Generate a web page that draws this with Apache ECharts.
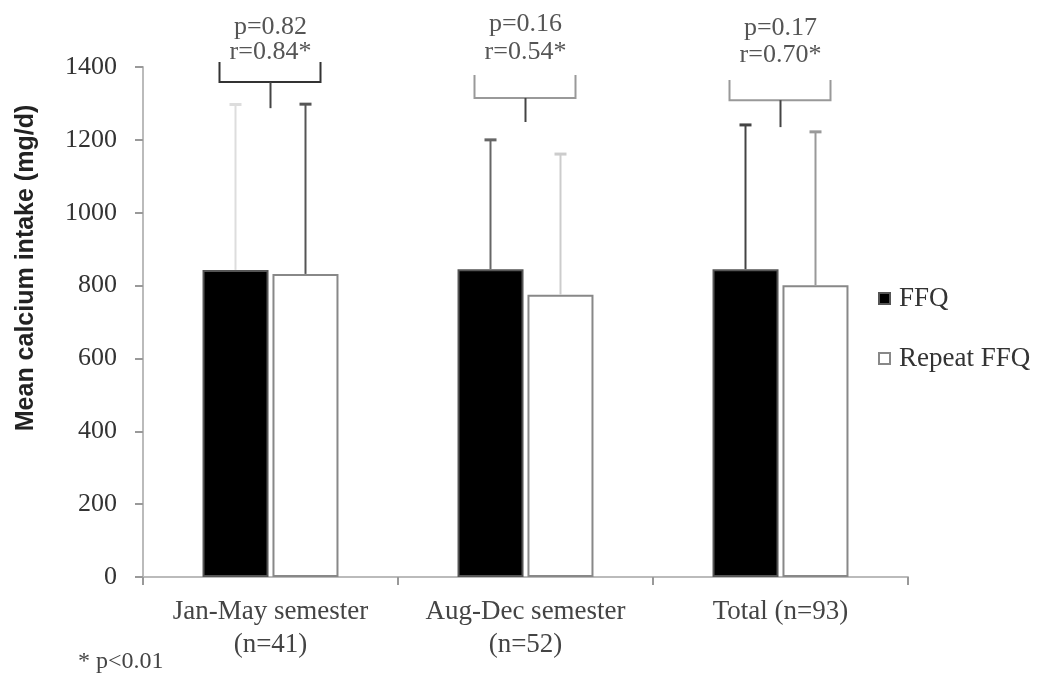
<!DOCTYPE html>
<html>
<head>
<meta charset="utf-8">
<script src="https://cdn.jsdelivr.net/npm/echarts@6/dist/echarts.min.js"></script>
<style>
  html, body { margin: 0; padding: 0; background: #fff; }
  #chart { width: 1050px; height: 684px; }
</style>
</head>
<body>
<div id="chart"></div>
<script>
var categories = ['Jan-May semester\n(n=41)', 'Aug-Dec semester\n(n=52)', 'Total (n=93)'];
var yTicks = [0, 200, 400, 600, 800, 1000, 1200, 1400];
var ffq = [843, 845, 845];
var repeatFfq = [832, 775, 801];
var ffqUpper = [1297, 1200, 1241];
var repeatUpper = [1298, 1161, 1222];
var pLabels = ['p=0.82', 'p=0.16', 'p=0.17'];
var rLabels = ['r=0.84*', 'r=0.54*', 'r=0.70*'];
// bracket levels over each pair (value units)
var bracketLevel = [1359, 1315, 1309];
var bracketTop = [1414, 1378, 1364];
var bracketBottom = [1287, 1249, 1235];
var pTextAt = [1510, 1518, 1507];
var rTextAt = [1440, 1440, 1432];

(function () {
    var serif = 'Liberation Serif';
    var barOffset = 35;
    var bracketColors = ['#333', '#999', '#999'];

    function errorBars(values, uppers, offset, colors) {
        return {
            type: 'custom',
            clip: false,
            z: 5,
            data: values.map(function (v, i) { return [i, v, uppers[i]]; }),
            renderItem: function (params, api) {
                var i = api.value(0);
                var lo = api.coord([i, api.value(1)]);
                var hi = api.coord([i, api.value(2)]);
                var x = lo[0] + offset;
                var c = colors[i];
                return {
                    type: 'group',
                    children: [{
                        type: 'line',
                        shape: { x1: x, y1: lo[1], x2: x, y2: hi[1] },
                        style: { stroke: c, lineWidth: 2 }
                    }, {
                        type: 'line',
                        shape: { x1: x - 6, y1: hi[1], x2: x + 6, y2: hi[1] },
                        style: { stroke: c, lineWidth: 3 }
                    }]
                };
            }
        };
    }

    var annotations = {
        type: 'custom',
        clip: false,
        z: 6,
        data: categories.map(function (c, i) { return [i]; }),
        renderItem: function (params, api) {
            var i = api.value(0);
            var mid = api.coord([i, bracketLevel[i]]);
            var top = api.coord([i, bracketTop[i]])[1];
            var bot = api.coord([i, bracketBottom[i]])[1];
            var pY = api.coord([i, pTextAt[i]])[1];
            var rY = api.coord([i, rTextAt[i]])[1];
            var x = mid[0], y = mid[1];
            return {
                type: 'group',
                children: [
                    { type: 'polyline', shape: { points: [[x - 51, top], [x - 51, y], [x + 50, y], [x + 50, top]] }, style: { stroke: bracketColors[i], fill: 'none', lineWidth: 2 } },
                    { type: 'line', shape: { x1: x, y1: y, x2: x, y2: bot }, style: { stroke: '#444', lineWidth: 2 } },
                    { type: 'text', style: { text: pLabels[i], x: x, y: pY, align: 'center', verticalAlign: 'middle', font: '26px "Liberation Serif"', fill: '#555' } },
                    { type: 'text', style: { text: rLabels[i], x: x, y: rY, align: 'center', verticalAlign: 'middle', font: '26px "Liberation Serif"', fill: '#555' } }
                ]
            };
        }
    };

    var option = {
        animation: false,
        backgroundColor: '#fff',
        grid: { left: 143, right: 142, top: 67, bottom: 107 },
        legend: {
            data: ['FFQ', 'Repeat FFQ'],
            orient: 'vertical',
            left: 873,
            top: 280,
            icon: 'rect',
            itemWidth: 11,
            itemHeight: 11,
            itemGap: 33,
            textStyle: { fontFamily: serif, fontSize: 27, color: '#333', padding: [0, 0, 0, 4] }
        },
        xAxis: {
            type: 'category',
            data: categories,
            axisLine: { lineStyle: { color: '#bbb', width: 2 } },
            axisTick: { show: true, length: 8, lineStyle: { color: '#999', width: 2 } },
            axisLabel: { interval: 0, fontFamily: serif, fontSize: 27, color: '#444', margin: 18, lineHeight: 33 }
        },
        yAxis: {
            type: 'value',
            min: 0,
            max: 1400,
            interval: 200,
            axisLine: { show: true, lineStyle: { color: '#bbb', width: 2 } },
            axisTick: { show: true, length: 8, lineStyle: { color: '#999', width: 2 } },
            splitLine: { show: false },
            axisLabel: {
                fontFamily: serif, fontSize: 26, color: '#333', margin: 26,
                formatter: function (v) { return yTicks.indexOf(v) >= 0 ? String(v) : ''; }
            }
        },
        graphic: [{
            type: 'text',
            x: 26,
            y: 268,
            rotation: Math.PI / 2,
            style: {
                text: 'Mean calcium intake (mg/d)',
                font: 'bold 25px "Liberation Sans"',
                fill: '#222',
                align: 'center',
                verticalAlign: 'middle'
            }
        }, {
            type: 'text',
            left: 78,
            top: 650,
            style: { text: '* p<0.01', font: '24px "Liberation Serif"', fill: '#444' }
        }],
        series: [{
            name: 'FFQ',
            type: 'bar',
            barWidth: 66,
            barGap: '6%',
            data: ffq,
            itemStyle: { color: '#000', borderColor: '#555', borderWidth: 2 }
        }, {
            name: 'Repeat FFQ',
            type: 'bar',
            barWidth: 66,
            barGap: '6%',
            data: repeatFfq,
            itemStyle: { color: '#fff', borderColor: '#888', borderWidth: 2 }
        },
        errorBars(ffq, ffqUpper, -barOffset, ['#ddd', '#666', '#444']),
        errorBars(repeatFfq, repeatUpper, barOffset, ['#555', '#ccc', '#999']),
        annotations]
    };

    var chart = echarts.init(document.getElementById('chart'));
    chart.setOption(option);
})();
</script>
</body>
</html>
